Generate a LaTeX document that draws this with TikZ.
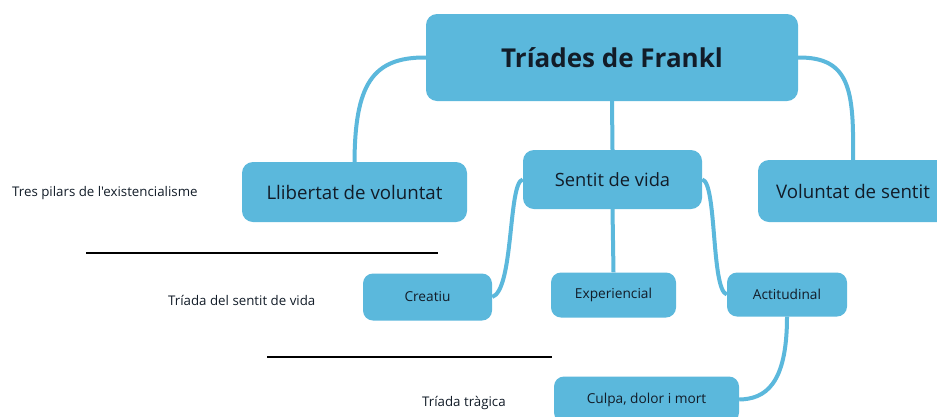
\documentclass[tikz,border=0pt]{standalone}
\usepackage{fontspec}
\newfontfamily\osans{Open Sans}
\definecolor{boxblue}{RGB}{91,184,220}
\definecolor{txt}{RGB}{18,28,40}
\begin{document}
\begin{tikzpicture}[x=1pt,y=-1pt,
  every node/.style={font=\osans},
  box/.style={fill=boxblue,draw=none,rounded corners=11pt,text=txt,inner sep=0pt,align=center},
  conn/.style={draw=boxblue,line width=4pt},
  lbl/.style={text=txt,font=\osans\fontsize{13.3}{15}\selectfont,inner sep=0pt},
  sep/.style={draw=black,line width=2pt}]
\useasboundingbox (0,0) rectangle (937,416);
\clip (0,0) rectangle (937,416);
\fill[white] (0,0) rectangle (937,416);
% nodes
\node[box,minimum width=372pt,minimum height=87pt,font=\osans\fontsize{26}{30}\selectfont\bfseries] (title) at (612,57.5) {Tríades de Frankl};
\node[box,minimum width=225pt,minimum height=60pt,font=\osans\fontsize{18.7}{22}\selectfont] (llib) at (354.5,192) {Llibertat de voluntat};
\node[box,minimum width=179pt,minimum height=59pt,font=\osans\fontsize{18.3}{22}\selectfont] (sent) at (612.5,179.5) {Sentit de vida};
\node[box,minimum width=190pt,minimum height=62pt,font=\osans\fontsize{18.7}{22}\selectfont] (volu) at (853,191) {Voluntat de sentit};
\node[box,rounded corners=10pt,minimum width=129pt,minimum height=47pt,font=\osans\fontsize{13.7}{16}\selectfont] (crea) at (427.5,297) {Creatiu};
\node[box,rounded corners=10pt,minimum width=125pt,minimum height=45pt,font=\osans\fontsize{13.7}{16}\selectfont] (expe) at (613.5,295) {Experiencial};
\node[box,rounded corners=10pt,minimum width=120pt,minimum height=44pt,font=\osans\fontsize{13.7}{16}\selectfont] (acti) at (787,294.5) {Actitudinal};
\node[box,rounded corners=10pt,minimum width=185pt,minimum height=46pt,font=\osans\fontsize{13.7}{16}\selectfont] (culp) at (646.5,399.5) {Culpa, dolor i mort};
% connectors
\draw[conn] (title.west) .. controls (372,57) and (355,85) .. (llib.north);
\draw[conn] (title.east) .. controls (850,57) and (854,90) .. (volu.north);
\draw[conn] (title.south) -- (sent.north);
\draw[conn] (sent.west) .. controls (508,182) and (514,290) .. (crea.east);
\draw[conn] (sent.south) -- (expe.north);
\draw[conn] (sent.east) .. controls (717,182) and (711,290) .. (acti.west);
\draw[conn] (acti.south) .. controls (787,385) and (765,399) .. (culp.east);
% labels
\node[lbl,anchor=west] (l1) at (12,193) {Tres pilars de l'existencialisme};
\node[lbl,anchor=west] (l2) at (168,300) {Tríada del sentit de vida};
\node[lbl,anchor=west] (l3) at (422,403) {Tríada tràgica};
% separators
\coordinate (s1a) at (86,253); \coordinate (s1b) at (438,253);
\coordinate (s2a) at (267,357); \coordinate (s2b) at (552,357);
\draw[sep] (s1a) -- (s1b);
\draw[sep] (s2a) -- (s2b);
\end{tikzpicture}
\end{document}
